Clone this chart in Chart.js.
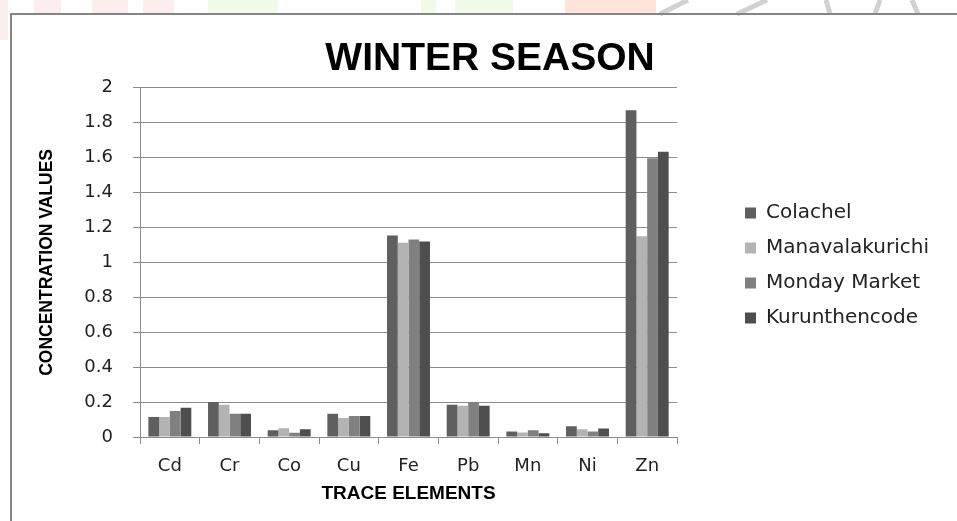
<!DOCTYPE html>
<html>
<head>
<meta charset="utf-8">
<title>Winter Season</title>
<script src="https://cdn.jsdelivr.net/npm/chart.js@4.4.0/dist/chart.umd.min.js"></script>
<style>
	html, body { margin: 0; padding: 0; background: #fff; }
	#wrap { position: relative; width: 957px; height: 521px; }
</style>
</head>
<body>
<div id="wrap"><canvas id="winterChart"></canvas></div>
<script>
// values
const elements = ['Cd', 'Cr', 'Co', 'Cu', 'Fe', 'Pb', 'Mn', 'Ni', 'Zn'];
const colachel = [0.114, 0.200, 0.038, 0.133, 1.154, 0.185, 0.032, 0.061, 1.872];
const manavalakurichi = [0.114, 0.185, 0.050, 0.109, 1.112, 0.179, 0.026, 0.044, 1.150];
const mondayMarket = [0.149, 0.133, 0.025, 0.120, 1.131, 0.200, 0.038, 0.032, 1.596];
const kurunthencode = [0.168, 0.133, 0.044, 0.120, 1.120, 0.179, 0.021, 0.049, 1.634];
const yTickValues = [0, 0.2, 0.4, 0.6, 0.8, 1, 1.2, 1.4, 1.6, 1.8, 2];

const PLOT_LEFT = 140;
const X_AXIS_HEIGHT = 84;
const RIGHT_GAP = 53;
const TITLE_CENTER = 490;

// faint watermark and the grey frame around the chart
const framePlugin = {
	id: 'frame',
	beforeDraw(chart) {
		const ctx = chart.ctx;
		ctx.save();
		ctx.fillStyle = 'rgba(250, 205, 205, 0.35)';
		ctx.fillRect(0, 0, 8, 40);
		ctx.fillRect(34, 0, 27, 13);
		ctx.fillRect(92, 0, 36, 13);
		ctx.fillRect(143, 0, 31, 13);
		ctx.fillStyle = 'rgba(215, 243, 200, 0.4)';
		ctx.fillRect(208, 0, 70, 13);
		ctx.fillRect(421, 0, 15, 13);
		ctx.fillRect(455, 0, 58, 13);
		ctx.fillStyle = 'rgba(255, 205, 190, 0.55)';
		ctx.fillRect(565, 0, 91, 13);
		ctx.strokeStyle = 'rgba(190, 190, 190, 0.7)';
		ctx.lineWidth = 5;
		ctx.beginPath();
		ctx.moveTo(688, 0); ctx.lineTo(660, 14);
		ctx.moveTo(767, 0); ctx.lineTo(737, 14);
		ctx.moveTo(826, 0); ctx.lineTo(830, 14);
		ctx.moveTo(880, 0); ctx.lineTo(875, 14);
		ctx.moveTo(912, 0); ctx.lineTo(918, 14);
		ctx.stroke();
		ctx.strokeStyle = '#858585';
		ctx.lineWidth = 2;
		ctx.beginPath();
		ctx.moveTo(11, 521);
		ctx.lineTo(11, 14);
		ctx.lineTo(957, 14);
		ctx.stroke();
		ctx.restore();
	}
};

// the title sits right of centre in the reference, legend a bit lower
const nudgePlugin = {
	id: 'nudge',
	afterLayout(chart) {
		const t = chart.titleBlock;
		if (t) {
			const dx = TITLE_CENTER - (t.left + t.right) / 2;
			t.left += dx;
			t.right += dx;
		}
		const lg = chart.legend;
		if (lg) {
			lg.top += 3;
			lg.bottom += 3;
		}
	}
};

const canvas = document.getElementById('winterChart');

new Chart(canvas, {
	type: 'bar',
	data: {
		labels: elements,
		datasets: [
			{ label: 'Colachel', data: colachel, backgroundColor: '#5f5f5f' },
			{ label: 'Manavalakurichi', data: manavalakurichi, backgroundColor: '#b3b3b3' },
			{ label: 'Monday Market', data: mondayMarket, backgroundColor: '#808080' },
			{ label: 'Kurunthencode', data: kurunthencode, backgroundColor: '#4e4e4e' }
		]
	},
	options: {
		responsive: true,
		maintainAspectRatio: false,
		animation: false,
		events: [],
		datasets: {
			bar: { categoryPercentage: 0.72, barPercentage: 1.0, borderWidth: 0 }
		},
		layout: { padding: { left: 0, right: 18, top: 0, bottom: 0 } },
		plugins: {
			title: {
				display: true,
				text: 'WINTER SEASON',
				color: '#000',
				font: { family: 'Liberation Sans', size: 39, weight: 'bold' },
				padding: { top: 36, bottom: 5 }
			},
			legend: {
				position: 'right',
				fullSize: false,
				labels: {
					boxWidth: 11,
					boxHeight: 11,
					padding: 15,
					color: '#222',
					font: { family: 'DejaVu Sans', size: 20 }
				}
			},
			tooltip: { enabled: false }
		},
		scales: {
			x: {
				grid: { display: true, drawOnChartArea: false, drawTicks: true, tickLength: 7, color: '#8c8c8c', offset: true },
				border: { display: true, color: '#8c8c8c', width: 1 },
				ticks: { color: '#222', padding: 12, font: { family: 'DejaVu Sans', size: 18 } },
				title: {
					display: true,
					text: 'TRACE ELEMENTS',
					color: '#000',
					font: { family: 'Liberation Sans', size: 19, weight: 'bold' },
					padding: { top: 4, bottom: 16 }
				},
				afterFit: scale => { scale.height = X_AXIS_HEIGHT; }
			},
			y: {
				min: 0,
				max: 2,
				afterBuildTicks: scale => { scale.ticks = yTickValues.map(v => ({ value: v })); },
				grid: { color: '#8c8c8c', lineWidth: 1, drawTicks: true, tickLength: 7 },
				border: { display: true, color: '#8c8c8c', width: 1 },
				ticks: {
					color: '#222',
					padding: 20,
					font: { family: 'DejaVu Sans', size: 18 },
					callback: v => String(+v.toFixed(1))
				},
				title: {
					display: true,
					text: 'CONCENTRATION VALUES',
					color: '#000',
					font: { family: 'Liberation Sans', size: 17.5, weight: 'bold' },
					padding: { top: 37, bottom: 0 }
				},
				afterFit: scale => { scale.width = PLOT_LEFT; }
			},
			gap: {
				type: 'linear',
				axis: 'y',
				position: 'right',
				display: false,
				afterFit: scale => { scale.width = RIGHT_GAP; }
			}
		}
	},
	plugins: [framePlugin, nudgePlugin]
});
</script>
</body>
</html>
